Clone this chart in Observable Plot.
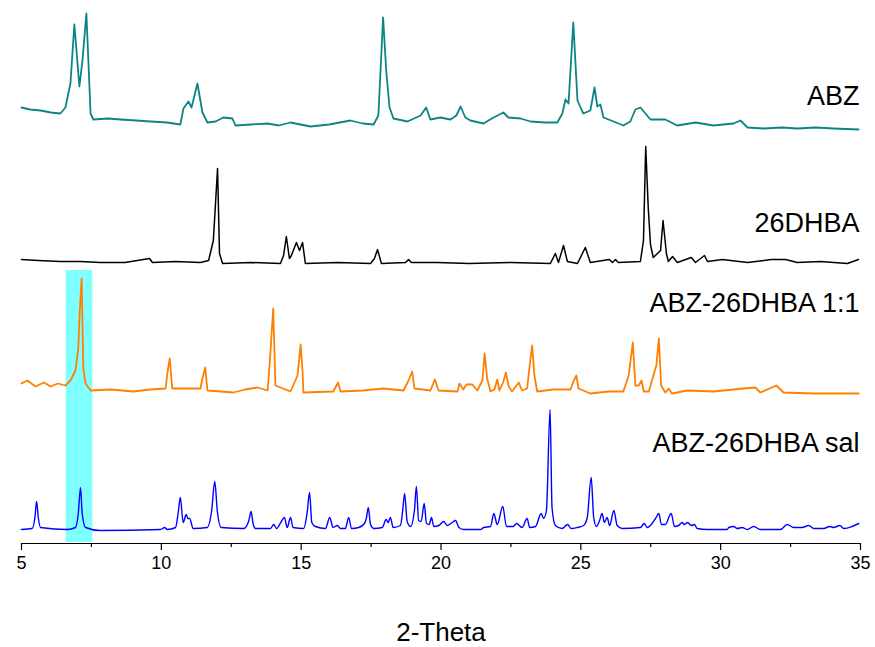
<!DOCTYPE html>
<html>
<head>
<meta charset="utf-8">
<script src="https://cdn.jsdelivr.net/npm/d3@7"></script>
<script src="https://cdn.jsdelivr.net/npm/@observablehq/plot@0.6"></script>
<style>
  body { margin: 0; background: #fff; }
  #chart svg { display: block; }
</style>
</head>
<body>
<div id="chart"></div>
<script>
// Powder X-ray diffraction patterns, [2θ (deg), intensity (a.u.)] pairs.
const abz = [
  [5.00,23],[5.30,21],[5.68,20],[6.05,18],[6.39,17],[6.57,23],[6.75,47],[6.89,106],[7.07,44],[7.18,70],[7.32,117],
  [7.47,17],[7.57,11],[8.10,12],[8.54,11],[9.10,10],[9.61,9],[10.20,8],[10.68,6],[10.79,22],[10.97,29],[11.08,23],[11.29,47],
  [11.47,18],[11.65,8],[11.94,9],[12.22,13],[12.54,12],[12.65,5],[13.20,6],[13.80,7],[14.20,5],[14.62,8],[15.33,4],
  [16.00,6],[16.76,10],[17.20,7],[17.59,6],[17.76,15],[17.93,113],[18.04,60],[18.16,23],[18.30,12],[18.80,9],
  [19.27,15],[19.47,23],[19.62,11],[19.98,13],[20.34,11],[20.55,15],[20.70,24],[20.87,13],
  [21.05,10],[21.52,7],[21.88,13],[22.23,18],[22.41,13],[22.84,12],[23.20,9],[23.70,8],[24.16,8],
  [24.34,17],[24.45,31],[24.56,27],[24.73,108],[24.88,30],[24.99,23],[25.09,17],[25.34,20],
  [25.49,43],[25.59,24],[25.70,26],[25.81,13],[26.17,9],[26.52,5],[26.77,9],[26.95,21],
  [27.13,23],[27.31,17],[27.49,11],[28.02,11],[28.45,5],[29.10,8],[29.74,5],[30.46,7],
  [30.71,10],[30.96,3],[31.53,2],[32.20,3],[32.74,2],[33.40,3],[34.03,2],[34.93,1]
];

const dhba26 = [
  [5.00,5],[5.60,4],[6.39,3],[7.10,3],[7.82,2],[8.70,2],[9.58,6],[9.68,2],[10.50,3],[11.40,2],[11.69,4],[11.86,24],[12.01,96],
  [12.08,11],[12.19,1],[13.20,2],[14.26,1],[14.37,9],[14.47,28],[14.58,6],[14.65,9],[14.83,22],[14.94,14],
  [15.05,22],[15.15,1],[16.30,2],[17.48,1],[17.62,6],[17.73,15],[17.87,1],[18.73,2],[18.84,5],[18.94,2],
  [19.87,2],[21.00,1],[22.50,2],[23.91,1],[24.09,11],[24.20,2],[24.38,19],[24.52,3],[24.88,1],[25.16,17],[25.34,2],
  [26.02,5],[26.13,2],[26.24,5],[26.34,2],[27.13,3],[27.24,24],[27.32,118],[27.41,57],[27.49,20],
  [27.59,7],[27.85,14],[27.94,44],[28.06,11],[28.13,3],[28.28,8],[28.45,2],[28.95,7],[29.10,2],
  [29.42,9],[29.53,3],[30.06,5],[30.96,2],[31.81,5],[32.32,5],[32.74,2],[33.57,3],[34.53,1],
  [34.93,5]
];

const cocrystal = [
  [5.00,11],[5.21,14],[5.50,8],[5.80,12],[6.04,8],[6.30,11],[6.57,9],[6.75,14],[6.93,24],[7.03,46],[7.08,82],
  [7.15,116],[7.21,26],[7.29,11],[7.47,4],[8.20,5],[9.00,3],[9.60,5],[10.15,6],[10.22,22],[10.30,36],[10.39,6],
  [11.40,6],[11.47,16],[11.57,27],[11.65,4],[12.58,2],[13.00,5],[13.44,7],[13.80,4],[13.87,29],[14.00,86],
  [14.08,9],[14.62,3],[14.87,19],[14.98,50],[15.05,23],[15.08,2],[16.15,3],[16.32,12],[16.41,3],
  [17.20,4],[17.94,6],[18.66,4],[18.84,14],[18.97,23],[19.05,6],[19.62,4],[19.78,15],[19.91,4],[20.59,3],
  [20.66,11],[20.80,5],[20.91,10],[21.12,10],[21.30,4],[21.48,14],[21.56,41],[21.65,16],
  [21.77,3],[21.91,5],[22.01,15],[22.09,4],[22.22,12],[22.32,22],[22.42,8],[22.54,3],[22.78,12],
  [22.90,4],[23.08,6],[23.17,29],[23.26,49],[23.34,19],[23.44,3],[24.02,5],[24.63,5],[24.75,14],
  [24.84,19],[24.92,6],[25.34,1],[26.00,3],[26.52,3],[26.71,19],[26.86,52],[26.95,9],[27.07,9],[27.17,14],
  [27.25,3],[27.43,3],[27.70,29],[27.79,56],[27.87,9],[28.02,2],[28.14,6],[28.26,1],[28.80,4],
  [29.75,3],[30.80,6],[31.24,7],[31.42,2],[31.99,9],[32.25,2],[33.33,1],[34.28,1],[34.94,1]
];

const salt = [
  [5.00,1],[5.38,2],[5.48,13],[5.54,29],[5.60,13],[5.68,3],[6.63,1],[6.93,3],[7.03,17],[7.11,43],
  [7.17,17],[7.29,3],[7.82,0],[9.97,1],[10.12,3],[10.21,1],[10.51,3],[10.60,17],[10.68,33],
  [10.78,8],[10.89,16],[10.95,12],[11.01,12],[11.14,2],[11.64,3],[11.80,20],[11.91,49],[12.00,20],
  [12.14,3],[12.95,2],[13.13,10],[13.21,19],[13.28,7],[13.37,2],[13.90,2],[14.02,6],[14.12,2],
  [14.29,9],[14.40,13],[14.50,3],[14.62,13],[14.71,3],[15.09,2],[15.21,17],[15.30,38],[15.38,8],
  [15.51,4],[15.87,2],[16.02,13],[16.14,3],[16.29,5],[16.41,2],[16.58,2],[16.70,13],[16.80,2],
  [17.06,3],[17.26,7],[17.33,12],[17.40,23],[17.48,6],[17.60,2],[17.90,3],[18.04,11],[18.11,8],
  [18.19,13],[18.29,3],[18.55,5],[18.63,20],[18.70,37],[18.79,9],[18.91,4],[19.05,20],[19.12,44],
  [19.20,10],[19.29,9],[19.40,27],[19.48,7],[19.58,6],[19.66,13],[19.74,4],[19.92,5],[20.10,9],
  [20.22,5],[20.40,8],[20.52,10],[20.64,3],[20.81,1],[21.41,1],[21.53,3],[21.77,4],[21.89,17],
  [22.01,6],[22.21,24],[22.34,4],[22.58,4],[22.70,7],[22.90,3],[23.08,12],[23.17,3],[23.38,4],
  [23.58,17],[23.67,12],[23.77,20],[23.90,121],[23.97,23],[24.09,5],[24.33,2],[24.53,6],[24.65,2],
  [24.87,3],[25.10,5],[25.23,13],[25.37,53],[25.46,13],[25.56,4],[25.67,10],[25.76,17],[25.84,8],
  [25.94,13],[26.03,5],[26.18,20],[26.30,5],[26.48,2],[27.13,3],[27.27,7],[27.37,3],[27.55,7],
  [27.67,12],[27.79,17],[27.88,6],[28.02,6],[28.23,17],[28.35,4],[28.50,5],[28.62,8],[28.70,6],
  [28.82,8],[28.95,5],[29.06,6],[29.16,2],[29.52,1],[30.23,1],[30.29,3],[30.47,4],[30.59,2],
  [30.77,3],[30.95,1],[31.18,4],[31.42,1],[32.14,1],[32.38,6],[32.61,3],[32.91,3],[33.15,5],
  [33.33,2],[33.68,2],[33.90,4],[34.04,3],[34.26,5],[34.40,2],[34.70,4],[34.94,7]
];

const sampleNames = ["ABZ", "26DHBA", "ABZ-26DHBA 1:1", "ABZ-26DHBA sal"];
const sampleColors = ["#0b8583", "#000000", "#ff8000", "#0000ff"];
const xTicks = [5, 10, 15, 20, 25, 30, 35];
const highlight = [6.6, 7.55];   // 2θ window of the low-angle reflection

// Vertical stacking of the patterns (a.u.)
const offsets = [413, 279, 149, 13];
const labelLift = [34, 41, 91, 87];
const patterns = [abz, dhba26, cocrystal, salt];

const rows = patterns.flatMap((p, i) =>
  p.map(([x, v]) => ({x, y: v + offsets[i], sample: sampleNames[i]}))
);
const labels = sampleNames.map((name, i) => ({name, y: offsets[i] + labelLift[i]}));

const font = "'Liberation Sans', Arial, Helvetica, sans-serif";

const lineMark = (i, opts = {}) =>
  Plot.line(rows.filter(d => d.sample === sampleNames[i]), {
    x: "x", y: "y", stroke: sampleColors[i], strokeWidth: 1.3, strokeLinejoin: "round", ...opts
  });

const chart = Plot.plot({
  width: 875,
  height: 647,
  marginLeft: 21,
  marginRight: 15,
  marginTop: 3,
  marginBottom: 104,
  style: {fontFamily: font, background: "#fff", color: "#000"},
  x: {domain: [5, 35]},
  y: {domain: [0, 540], axis: null},
  marks: [
    Plot.rect([highlight], {x1: d => d[0], x2: d => d[1], y1: 1, y2: 273, fill: "#80ffff"}),
    lineMark(0, {strokeWidth: 1.8}),
    lineMark(1, {strokeWidth: 1.5}),
    lineMark(2, {strokeWidth: 1.8}),
    // calculated pattern: smooth profile through the read points
    lineMark(3, {strokeWidth: 1.4, curve: "monotone-x"}),
    Plot.text(labels, {
      x: 35, y: "y", text: "name", textAnchor: "end", lineAnchor: "middle",
      fontSize: 27, fill: "#000", dx: -1
    }),
    Plot.ruleY([0], {stroke: "#000", strokeWidth: 1.2}),
    Plot.axisX({
      ticks: xTicks, tickSize: 7, tickPadding: 6, fontSize: 18, label: null,
      stroke: "#000", strokeWidth: 1.2
    }),
    Plot.axisX({
      ticks: d3.range(7.5, 35, 5), tickSize: 4, text: null, label: null,
      stroke: "#000", strokeWidth: 1.2
    }),
    Plot.text(["2-Theta"], {
      frameAnchor: "bottom", dy: 89, fontSize: 26, lineAnchor: "middle", fill: "#000"
    })
  ]
});

document.getElementById("chart").append(chart);
</script>
</body>
</html>
